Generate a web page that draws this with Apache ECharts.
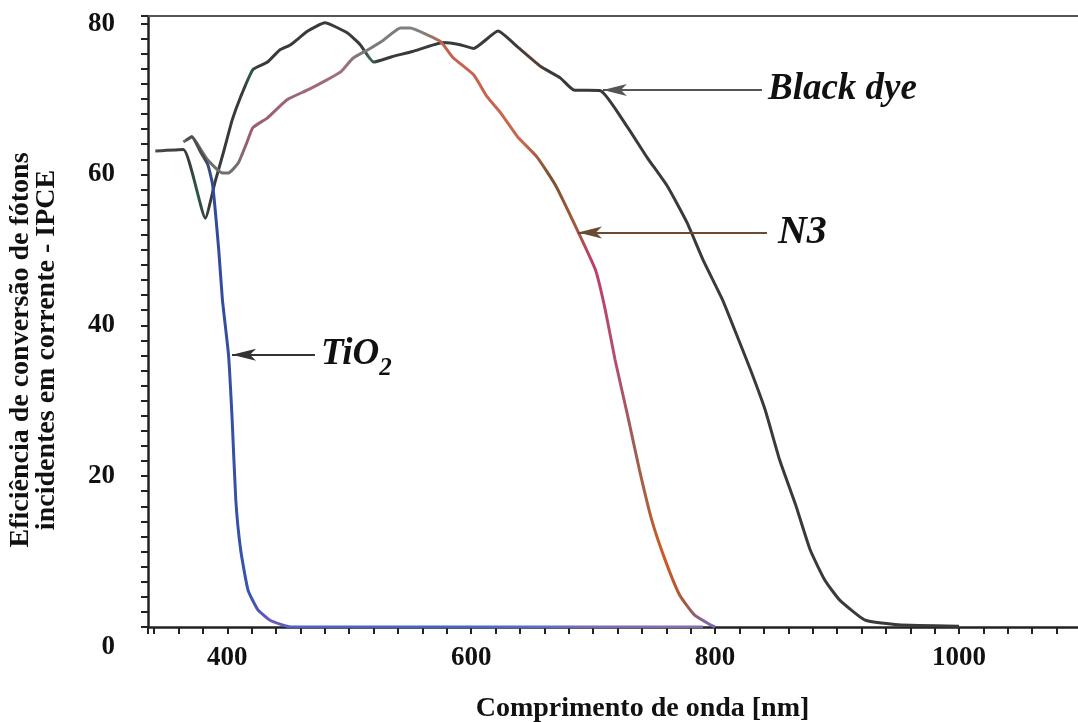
<!DOCTYPE html>
<html>
<head>
<meta charset="utf-8">
<title>IPCE</title>
<script src="https://cdn.jsdelivr.net/npm/echarts@6/dist/echarts.min.js"></script>
<style>
  html, body { margin: 0; padding: 0; background: #ffffff; }
  #chart { width: 1078px; height: 722px; }
</style>
</head>
<body>
<div id="chart"></div>
<script>
// valores: comprimento de onda (nm) e IPCE (%)
const blackDyeNm = [341, 364, 382, 390, 397, 404, 411, 421, 433, 443, 452, 466, 480, 498, 509, 520, 535, 552, 577, 591, 602, 622, 638, 657, 673, 684, 706, 728, 744, 761, 777, 790, 806, 816, 829, 841, 853, 866, 878, 890, 902, 923, 950, 1000];
const blackDyeIpce = [63.1, 63.3, 54.2, 59.0, 63.0, 67.2, 70.3, 73.9, 74.9, 76.5, 77.2, 79.0, 80.1, 78.8, 77.2, 74.9, 75.6, 76.3, 77.5, 77.2, 76.7, 79.0, 76.9, 74.3, 72.8, 71.2, 71.1, 66.3, 62.3, 58.4, 53.6, 48.7, 43.4, 39.4, 34.1, 28.8, 22.1, 16.2, 10.2, 6.2, 3.6, 0.9, 0.3, 0.1];

const n3Nm = [364, 371, 376, 384, 396, 401, 409, 416, 421, 433, 449, 466, 479, 493, 503, 515, 528, 542, 550, 564, 575, 585, 602, 613, 624, 638, 654, 669, 685, 702, 710, 718, 729, 738, 748, 759, 771, 783, 796, 800];
const n3Ipce = [64.3, 65.0, 63.9, 61.9, 60.2, 60.2, 61.5, 64.2, 66.2, 67.5, 69.9, 71.2, 72.3, 73.6, 75.4, 76.5, 77.8, 79.4, 79.4, 78.5, 77.6, 75.5, 73.2, 70.3, 68.2, 65.0, 62.3, 58.6, 53.3, 47.3, 42.0, 35.4, 27.5, 20.8, 14.2, 8.9, 4.2, 1.6, 0.3, 0];

const tio2Nm = [366, 371, 378, 384, 388, 393, 396, 401, 404, 407, 411, 417, 425, 435, 452, 500, 600, 700, 790];
const tio2Ipce = [64.5, 65.0, 63.0, 61.3, 58.6, 50.0, 43.4, 36.1, 27.5, 16.8, 10.2, 4.9, 2.3, 0.9, 0, 0, 0, 0, 0];

const xTickLabels = [400, 600, 800, 1000];
const yTickLabels = [0, 20, 40, 60, 80];

const pairs = (xs, ys) => xs.map((x, i) => [x, ys[i]]);
const serif = '"Liberation Serif", "Times New Roman", serif';

const noteLabel = {
  show: true,
  position: "start",
  distance: 6,
  color: "#111",
  fontFamily: serif,
  fontWeight: "bold",
  fontStyle: "italic",
  fontSize: 37,
};

// seta de anotação: início sem símbolo, fim com ponta de seta
function arrowLine(from, to, color) {
  return [
    { coord: from, symbol: "none" },
    { coord: to, symbol: "arrow", symbolSize: [9, 24], lineStyle: { color: color } },
  ];
}

const chart = echarts.init(document.getElementById("chart"));

const option = {
  animation: false,
  backgroundColor: "#ffffff",
  grid: { left: 148, right: -3, top: 16, bottom: 95, containLabel: false, outerBoundsMode: "none" },
  xAxis: [
    {
      type: "value",
      min: 335,
      max: 1100,
      splitNumber: 38,
      axisLine: { lineStyle: { color: "#222", width: 2.5 } },
      axisTick: { length: 7, lineStyle: { color: "#222", width: 2 } },
      splitLine: { show: false },
      axisLabel: {
        margin: 18,
        color: "#111",
        fontFamily: serif,
        fontWeight: "bold",
        fontSize: 27,
        formatter: (v) => (xTickLabels.includes(v) ? String(v) : ""),
      },
      name: "Comprimento de onda [nm]",
      nameLocation: "middle",
      nameGap: 68,
      nameTextStyle: {
        color: "#111",
        fontFamily: serif,
        fontWeight: "bold",
        fontSize: 28,
        padding: [0, 0, 0, 56],
      },
    },
    {
      // linha superior do quadro
      type: "value",
      position: "top",
      min: 335,
      max: 1100,
      axisLine: { show: true, lineStyle: { color: "#555", width: 2 } },
      axisTick: { show: false },
      axisLabel: { show: false },
      splitLine: { show: false },
    },
  ],
  yAxis: {
    type: "value",
    min: 0,
    max: 81,
    interval: 2,
    axisLine: { show: true, lineStyle: { color: "#222", width: 2.5 } },
    axisTick: { show: true, length: 7, lineStyle: { color: "#222", width: 2 } },
    splitLine: { show: false },
    axisLabel: {
      margin: 33,
      color: "#111",
      fontFamily: serif,
      fontWeight: "bold",
      fontSize: 27,
      formatter: (v) => {
        if (v === 0) return "{z|0}";
        return yTickLabels.includes(v) ? String(v) : "";
      },
      rich: {
        z: {
          color: "#111",
          fontFamily: serif,
          fontWeight: "bold",
          fontSize: 27,
          padding: [40, 0, 0, 0],
        },
      },
    },
  },
  graphic: [
    {
      type: "text",
      x: 34,
      y: 350,
      rotation: Math.PI / 2,
      style: {
        text: "Eficiência de conversão de fótons\nincidentes em corrente - IPCE",
        fill: "#111",
        font: 'bold 28px "Liberation Serif", serif',
        textAlign: "center",
        textVerticalAlign: "middle",
        lineHeight: 26,
      },
    },
  ],
  series: [
    {
      name: "Black dye",
      type: "line",
      data: pairs(blackDyeNm, blackDyeIpce),
      showSymbol: false,
      smooth: 0.15,
      z: 2,
      lineStyle: {
        width: 3,
        color: new echarts.graphic.LinearGradient(0, 0, 1, 0, [
          { offset: 0, color: "#4a4a4a" },
          { offset: 0.045, color: "#3a3a3a" },
          { offset: 0.055, color: "#2c5a4a" },
          { offset: 0.066, color: "#3a3a3a" },
          { offset: 0.112, color: "#3a3a3a" },
          { offset: 0.12, color: "#2d5a48" },
          { offset: 0.13, color: "#3a3a3a" },
          { offset: 0.26, color: "#3a3a3a" },
          { offset: 0.268, color: "#3a6a58" },
          { offset: 0.28, color: "#3a3a3a" },
          { offset: 0.45, color: "#3a3a3a" },
          { offset: 0.47, color: "#5a4030" },
          { offset: 0.49, color: "#3a3a3a" },
          { offset: 1, color: "#3a3a3a" },
        ]),
      },
      markLine: {
        silent: true,
        lineStyle: { color: "#555", width: 2, type: "solid" },
        label: Object.assign({}, noteLabel, { formatter: "Black dye" }),
        data: [arrowLine([838.4, 71.2], [708.0, 71.2], "#555")],
      },
    },
    {
      name: "N3",
      type: "line",
      data: pairs(n3Nm, n3Ipce),
      showSymbol: false,
      smooth: 0.15,
      z: 3,
      lineStyle: {
        width: 3,
        color: new echarts.graphic.LinearGradient(0, 0, 1, 0, [
          { offset: 0, color: "#6a6a6a" },
          { offset: 0.1, color: "#707070" },
          { offset: 0.13, color: "#9c5c72" },
          { offset: 0.3, color: "#a0707e" },
          { offset: 0.34, color: "#7a7a7a" },
          { offset: 0.45, color: "#808080" },
          { offset: 0.49, color: "#c4624a" },
          { offset: 0.64, color: "#c86850" },
          { offset: 0.69, color: "#7a5030" },
          { offset: 0.73, color: "#a05a3a" },
          { offset: 0.77, color: "#c03c70" },
          { offset: 0.81, color: "#b05070" },
          { offset: 0.85, color: "#9a6050" },
          { offset: 0.9, color: "#d05a20" },
          { offset: 0.94, color: "#a05a40" },
          { offset: 0.98, color: "#8068a8" },
          { offset: 1, color: "#8068a8" },
        ]),
      },
      markLine: {
        silent: true,
        lineStyle: { color: "#555", width: 2, type: "solid" },
        label: Object.assign({}, noteLabel, {
          formatter: "N3",
          fontSize: 40,
          distance: 11,
          padding: [0, 0, 10, 0],
        }),
        data: [arrowLine([842.5, 52.3], [687.5, 52.3], "#6a4a30")],
      },
    },
    {
      name: "TiO2",
      type: "line",
      data: pairs(tio2Nm, tio2Ipce),
      showSymbol: false,
      smooth: 0.15,
      z: 4,
      lineStyle: {
        width: 3,
        color: new echarts.graphic.LinearGradient(0, 0, 1, 0, [
          { offset: 0, color: "#555555" },
          { offset: 0.04, color: "#4a4a4a" },
          { offset: 0.055, color: "#2f4a9a" },
          { offset: 0.13, color: "#3a56b0" },
          { offset: 0.17, color: "#7058c0" },
          { offset: 0.21, color: "#5060c0" },
          { offset: 0.5, color: "#4862c0" },
          { offset: 0.7, color: "#5a70c8" },
          { offset: 0.76, color: "#7a6ab0" },
          { offset: 1, color: "#8070a8" },
        ]),
      },
      markLine: {
        silent: true,
        lineStyle: { color: "#333", width: 2, type: "solid" },
        label: Object.assign({}, noteLabel, {
          formatter: "{a|TiO}{b|2}",
          rich: {
            a: { fontFamily: serif, fontWeight: "bold", fontStyle: "italic", fontSize: 37, color: "#111" },
            b: { fontFamily: serif, fontWeight: "bold", fontStyle: "italic", fontSize: 25, color: "#111", padding: [28, 0, 0, 0] },
          },
        }),
        data: [arrowLine([471.9, 36.1], [403.9, 36.1], "#333")],
      },
    },
  ],
};

chart.setOption(option);
</script>
</body>
</html>
